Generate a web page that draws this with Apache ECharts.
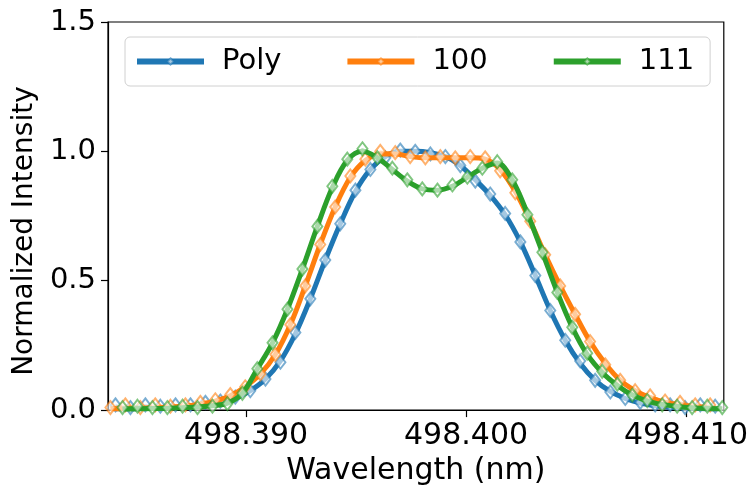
<!DOCTYPE html>
<html><head><meta charset="utf-8">
<script src="https://cdn.jsdelivr.net/npm/echarts@6/dist/echarts.min.js"></script>
<style>html,body{margin:0;padding:0;background:#fff}#c{width:751px;height:491px}</style>
</head><body><div id="c"></div>
<script>
// Wavelength grids (nm) for each measured series
const polyX = [498.38406,498.38474,498.38542,498.38610,498.38679,498.38747,498.38815,498.38883,498.38951,498.39019,
  498.39088,498.39156,498.39224,498.39292,498.39360,498.39428,498.39497,498.39565,498.39633,498.39701,
  498.39769,498.39838,498.39906,498.39974,498.40042,498.40110,498.40178,498.40247,498.40315,498.40383,
  498.40451,498.40519,498.40587,498.40656,498.40724,498.40792,498.40860,498.40928,498.40996,498.41065,498.41133];
const x100 = [498.38383,498.38451,498.38519,498.38587,498.38656,498.38724,498.38792,498.38860,498.38928,498.38996,
  498.39065,498.39133,498.39201,498.39269,498.39337,498.39405,498.39474,498.39542,498.39610,498.39678,
  498.39746,498.39815,498.39883,498.39951,498.40019,498.40087,498.40155,498.40224,498.40292,498.40360,
  498.40428,498.40496,498.40564,498.40633,498.40701,498.40769,498.40837,498.40905,498.40973,498.41042,498.41110];
const x111 = [498.38438,498.38506,498.38574,498.38642,498.38711,498.38779,498.38847,498.38915,498.38983,498.39051,
  498.39120,498.39188,498.39256,498.39324,498.39392,498.39460,498.39529,498.39597,498.39665,498.39733,
  498.39801,498.39870,498.39938,498.40006,498.40074,498.40142,498.40210,498.40279,498.40347,498.40415,
  498.40483,498.40551,498.40619,498.40688,498.40756,498.40824,498.40892,498.40960,498.41028,498.41097,498.41165];

// Measured normalized intensities
const polyY = [0.02,0.01,0.02,0.015,0.02,0.02,0.03,0.035,0.05,0.075,
  0.12,0.185,0.30,0.43,0.58,0.72,0.85,0.93,0.975,1.005,
  1.0,0.99,0.98,0.945,0.885,0.835,0.76,0.65,0.52,0.385,
  0.27,0.19,0.115,0.07,0.045,0.03,0.02,0.02,0.01,0.02,0.015];
const y100 = [0.01,0.02,0.01,0.02,0.015,0.02,0.03,0.04,0.06,0.09,
  0.14,0.215,0.33,0.48,0.64,0.785,0.905,0.97,1.0,0.995,
  0.98,0.975,0.98,0.975,0.98,0.975,0.925,0.84,0.73,0.60,
  0.48,0.37,0.265,0.175,0.115,0.075,0.055,0.035,0.03,0.02,0.02];
const y111 = [0.01,0.015,0.01,0.01,0.015,0.01,0.015,0.025,0.065,0.16,
  0.26,0.39,0.545,0.71,0.865,0.97,1.01,0.975,0.935,0.89,
  0.855,0.85,0.87,0.90,0.935,0.96,0.89,0.755,0.61,0.455,
  0.32,0.22,0.15,0.10,0.058,0.037,0.02,0.015,0.01,0.015,0.01];

// Fitted curves on the same grids
const polyFit = [0.005,0.005,0.006,0.008,0.01,0.013,0.018,0.027,0.045,0.075,
  0.12,0.19,0.295,0.43,0.58,0.72,0.845,0.93,0.98,1.0,
  1.0,0.995,0.98,0.945,0.89,0.83,0.755,0.65,0.52,0.385,
  0.27,0.18,0.115,0.072,0.045,0.027,0.017,0.011,0.008,0.006,0.005];
const fit100 = [0.005,0.006,0.007,0.009,0.012,0.016,0.023,0.035,0.055,0.09,
  0.14,0.215,0.33,0.48,0.64,0.785,0.9,0.965,0.99,0.99,
  0.98,0.975,0.975,0.975,0.975,0.97,0.93,0.845,0.73,0.60,
  0.48,0.37,0.265,0.18,0.115,0.075,0.048,0.03,0.02,0.013,0.009];
const fit111 = [0.004,0.005,0.006,0.007,0.009,0.012,0.017,0.027,0.065,0.16,
  0.26,0.39,0.545,0.71,0.86,0.965,1.0,0.975,0.93,0.885,
  0.855,0.85,0.865,0.90,0.935,0.955,0.89,0.76,0.61,0.455,
  0.32,0.215,0.145,0.095,0.058,0.035,0.022,0.014,0.009,0.006,0.005];

const names = ['Poly','100','111'];
const colors = ['#1f77b4','#ff7f0e','#2ca02c'];
const xTicks = [498.390, 498.400, 498.410];
const yTicks = [0.0, 0.5, 1.0, 1.5];

const xs = [polyX, x100, x111];
const ys = [polyY, y100, y111];
const fits = [polyFit, fit100, fit111];
const pair = (x, y) => x.map((v, i) => [v, y[i]]);

const series = [];
names.forEach((n, k) => {
  series.push({
    name: n + ' fit', type: 'line', data: pair(xs[k], fits[k]), smooth: 0.35,
    symbol: 'none', lineStyle: {width: 5, color: colors[k]}, itemStyle: {color: colors[k]},
    animation: false, z: 2 + k * 2
  });
  series.push({
    name: n, type: 'line', data: pair(xs[k], ys[k]),
    symbol: 'emptyDiamond', symbolSize: [10, 13], showSymbol: true,
    lineStyle: {width: 1.6, color: colors[k], opacity: 0.6},
    itemStyle: {color: colors[k], borderColor: colors[k], borderWidth: 1.4, opacity: 0.6},
    animation: false, z: 3 + k * 2
  });
});

const font = 'DejaVu Sans';
const chart = echarts.init(document.getElementById('c'), null, {renderer: 'canvas'});
chart.setOption({
  animation: false,
  backgroundColor: '#fff',
  grid: {left: 108, right: 26, top: 22, bottom: 78, show: true, borderColor: '#000', borderWidth: 1.2, backgroundColor: 'transparent'},
  legend: {
    data: names, left: 125, top: 37, orient: 'horizontal',
    padding: [7, 16, 7, 9], itemWidth: 67, itemHeight: 8, itemGap: 63,
    backgroundColor: 'rgba(255,255,255,0.8)', borderColor: '#d0d0d0', borderWidth: 1, borderRadius: 5,
    lineStyle: {width: 6, opacity: 1},
    textStyle: {fontFamily: font, fontSize: 29, color: '#000', padding: [0, 0, 0, 13], lineHeight: 35}
  },
  xAxis: {
    type: 'value', min: 498.38372, max: 498.41172,
    name: 'Wavelength (nm)', nameLocation: 'middle', nameGap: 45,
    nameTextStyle: {fontFamily: font, fontSize: 30, color: '#000'},
    axisLine: {show: true, lineStyle: {color: '#000', width: 1.2}},
    axisTick: {show: true, inside: false, length: 7, lineStyle: {color: '#000', width: 1.2}, customValues: xTicks},
    axisLabel: {fontFamily: font, fontSize: 30, color: '#000', margin: 11, customValues: xTicks,
      formatter: v => v.toFixed(3)},
    splitLine: {show: false}
  },
  yAxis: {
    type: 'value', min: 0, max: 1.5, interval: 0.5,
    name: 'Normalized Intensity', nameLocation: 'middle', nameGap: 60,
    nameTextStyle: {fontFamily: font, fontSize: 28, color: '#000', padding: [0, 30, 0, 0]},
    axisLine: {show: true, lineStyle: {color: '#000', width: 1.2}},
    axisTick: {show: true, inside: false, length: 7, lineStyle: {color: '#000', width: 1.2}},
    axisLabel: {fontFamily: font, fontSize: 29, color: '#000', margin: 12, formatter: v => v.toFixed(1)},
    splitLine: {show: false}
  },
  series: series
});
</script>
</body></html>
